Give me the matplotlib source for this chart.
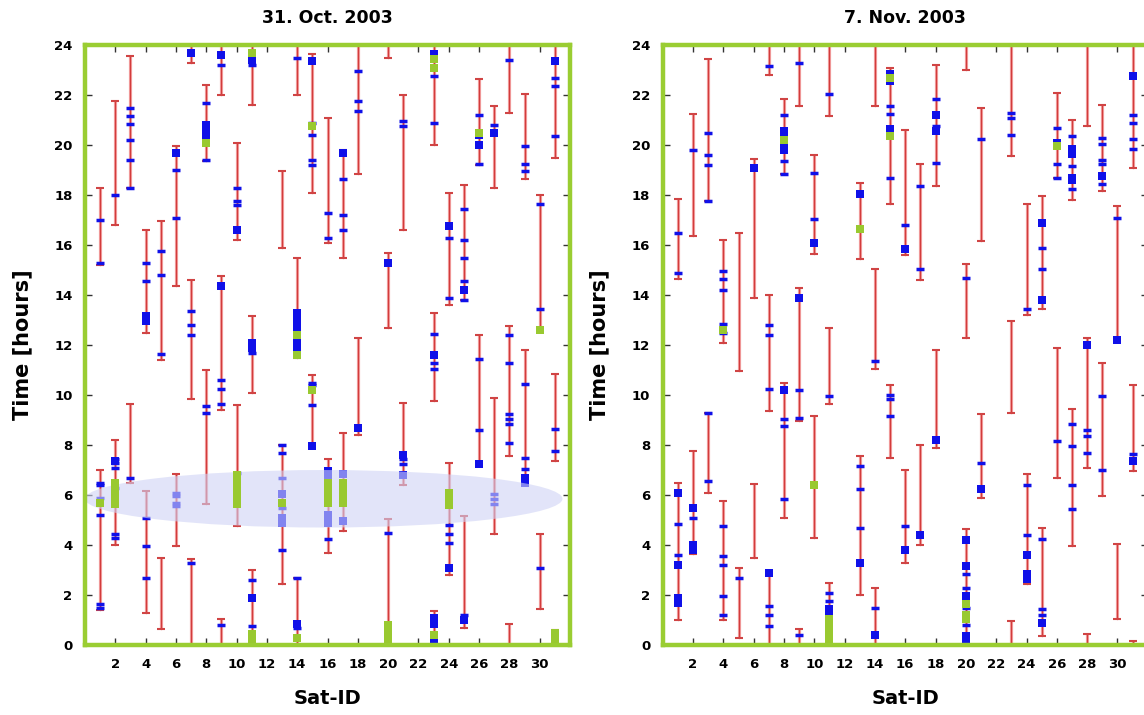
import matplotlib
matplotlib.use("Agg")
import matplotlib.pyplot as plt
from matplotlib.patches import Ellipse

# ---------------- data ----------------
# visibility windows: (sat, top hour, bottom hour)
oct_windows = [
    (1, 18.3, 15.2), (1, 7.0, 1.4), (2, 21.75, 16.8), (2, 8.2, 4.0),
    (3, 23.55, 18.3), (3, 9.65, 6.5), (4, 16.6, 12.5), (4, 6.15, 1.3),
    (5, 16.95, 11.4), (5, 3.5, 0.65), (6, 19.95, 14.35), (6, 6.85, 3.95),
    (7, 24, 23.3), (7, 14.6, 9.85), (7, 3.45, 0), (8, 22.4, 19.35), (8, 11.0, 5.65),
    (9, 24, 22.0), (9, 14.75, 9.4), (9, 1.05, 0), (10, 20.1, 16.2), (10, 9.6, 4.75),
    (11, 24, 21.6), (11, 13.15, 10.1), (11, 3.0, 0), (13, 18.95, 15.9), (13, 8.0, 2.45),
    (14, 24, 22.0), (14, 15.5, 11.5), (14, 2.7, 0), (15, 23.65, 18.1), (15, 10.8, 7.9),
    (16, 21.1, 16.1), (16, 7.45, 3.7), (17, 19.8, 15.5), (17, 8.5, 4.55),
    (18, 24, 18.85), (18, 12.3, 8.4), (20, 24, 23.5), (20, 15.7, 12.7), (20, 5.05, 0),
    (21, 22.0, 16.6), (21, 9.7, 6.4), (23, 24, 20.0), (23, 13.3, 9.75), (23, 1.35, 0),
    (24, 18.1, 13.6), (24, 7.3, 2.8), (25, 18.4, 13.8), (25, 5.15, 0.7),
    (26, 22.65, 19.2), (26, 12.4, 7.25), (27, 21.55, 18.3), (27, 9.9, 4.45),
    (28, 24, 21.3), (28, 12.75, 7.55), (28, 0.85, 0), (29, 22.05, 18.65), (29, 11.8, 6.4),
    (30, 18.0, 12.6), (30, 4.45, 1.45), (31, 24, 19.5), (31, 10.85, 7.35), (31, 0.6, 0),
]
oct_blue = [
    (1, [17.0, 15.3, 6.5, 6.4, 5.9, 5.2, 1.65, 1.5]), (2, [18.0, 7.45, 7.3, 7.1, 6.3, 4.45, 4.3]),
    (3, [21.5, 21.15, 20.85, 20.2, 19.4, 18.3, 6.7]), (4, [15.3, 14.55, 5.1, 3.95, 2.7]),
    (5, [15.75, 14.8, 11.65]), (6, [19.0, 17.1, 6.1, 5.95, 5.7, 5.55]), (7, [13.35, 12.8, 12.4, 3.3]),
    (8, [21.7, 19.4, 9.55, 9.3]), (9, [23.2, 10.6, 10.25, 9.65, 0.8]), (10, [18.3, 17.75, 17.6, 6.9]),
    (11, [23.2, 11.7, 2.6, 0.75]), (13, [8.0, 7.7, 6.7, 5.5, 3.8]), (14, [23.5, 2.7, 0.7]),
    (15, [20.9, 20.4, 19.4, 19.2, 10.5, 10.4, 9.6]), (16, [17.3, 16.3, 4.25]), (17, [18.65, 17.2, 16.6]),
    (18, [22.95, 21.75, 21.35]), (20, [4.5]), (21, [20.95, 20.75, 7.45, 7.25]),
    (23, [22.75, 20.9, 12.45, 11.3, 11.05]), (24, [16.3, 13.9, 4.8, 4.45, 4.1]),
    (25, [17.45, 16.2, 15.5, 14.55, 13.8, 1.2]), (26, [21.2, 19.25, 11.45, 8.6]),
    (27, [20.8, 6.05, 5.85, 5.65]), (28, [23.4, 12.4, 11.3, 9.25, 9.05, 8.85, 8.1]),
    (29, [19.95, 19.25, 18.95, 10.45, 7.5, 7.05]), (30, [17.65, 13.45, 3.1]),
    (31, [22.7, 22.35, 20.35, 8.65, 7.75]),
]
oct_blue_big = [
    (2, [7.35]), (4, [13.15, 12.95]), (6, [19.7]), (7, [23.7]), (8, [20.8, 20.55, 20.35]),
    (9, [23.6, 14.35]), (10, [16.6]), (11, [23.4, 12.1, 11.9, 1.9]), (13, [6.05, 5.1, 4.9]),
    (14, [13.3, 13.0, 12.7, 12.2, 11.9, 0.85]), (15, [23.35, 7.95]), (16, [6.95, 6.7, 5.2, 4.9]),
    (17, [19.7, 6.85, 4.95]), (18, [8.7]), (20, [15.3]), (21, [7.6, 6.8]),
    (23, [23.65, 11.6, 1.1, 0.85, 0.1]), (24, [16.75, 3.1]), (25, [14.2, 1.0]),
    (26, [20.4, 20.0, 7.25]), (27, [20.5]), (29, [6.7, 6.5]), (31, [23.35]),
]
oct_green = [
    (1, [5.7]), (2, [6.5, 6.2, 5.9, 5.65]), (8, [20.1]), (10, [6.8, 6.5, 6.2, 5.9, 5.65]),
    (11, [23.7, 0.45, 0.2]), (13, [5.7]), (14, [12.4, 11.6, 0.3]), (15, [20.75, 10.2]),
    (16, [6.5, 6.2, 5.9, 5.7]), (17, [6.5, 6.2, 5.9, 5.7]), (20, [0.8, 0.5, 0.2]),
    (23, [23.45, 23.1, 0.4]), (24, [6.1, 5.8, 5.6]), (26, [20.5]), (30, [12.6]), (31, [0.5, 0.2]),
]

nov_windows = [
    (1, 17.85, 14.65), (1, 6.5, 1.0), (2, 21.25, 16.35), (2, 7.75, 3.65),
    (3, 23.45, 17.75), (3, 9.3, 6.1), (4, 16.2, 12.1), (4, 5.75, 1.0),
    (5, 16.5, 10.95), (5, 3.1, 0.3), (6, 19.45, 13.9), (6, 6.45, 3.5),
    (7, 24, 22.8), (7, 14.0, 9.35), (7, 2.95, 0), (8, 21.85, 18.85), (8, 10.5, 5.1),
    (9, 24, 21.55), (9, 14.3, 8.95), (9, 0.65, 0), (10, 19.6, 15.65), (10, 9.15, 4.3),
    (11, 24, 21.15), (11, 12.7, 9.65), (11, 2.5, 0), (13, 18.5, 15.45), (13, 7.55, 2.0),
    (14, 24, 21.55), (14, 15.05, 11.05), (14, 2.3, 0), (15, 23.1, 17.65), (15, 10.4, 7.5),
    (16, 20.6, 15.6), (16, 7.0, 3.3), (17, 19.25, 14.6), (17, 8.0, 4.0),
    (18, 23.2, 18.35), (18, 11.8, 7.9), (20, 24, 23.0), (20, 15.25, 12.3), (20, 4.65, 0),
    (21, 21.5, 16.15), (21, 9.25, 5.9), (23, 24, 19.55), (23, 12.95, 9.3), (23, 0.95, 0),
    (24, 17.65, 13.2), (24, 6.85, 2.45), (25, 17.95, 13.45), (25, 4.7, 0.35),
    (26, 22.1, 18.7), (26, 11.9, 6.7), (27, 21.0, 17.8), (27, 9.45, 3.95),
    (28, 24, 20.75), (28, 12.3, 7.1), (28, 0.45, 0), (29, 21.6, 18.15), (29, 11.3, 5.95),
    (30, 17.55, 12.2), (30, 4.05, 1.05), (31, 24, 19.1), (31, 10.4, 6.95), (31, 0.15, 0),
]
nov_blue = [
    (1, [16.5, 14.9, 4.85, 3.6]), (2, [19.8, 5.1]), (3, [20.5, 19.6, 19.2, 17.75, 9.3, 6.55]),
    (4, [14.95, 14.65, 14.2, 12.85, 12.5, 4.75, 3.55, 3.2, 1.95, 1.2]), (5, [2.7]),
    (7, [23.15, 12.8, 12.4, 10.25, 1.55, 1.2, 0.75]), (8, [21.2, 19.35, 18.85, 9.05, 8.75, 5.85]),
    (9, [23.3, 10.2, 9.1, 0.4]), (10, [18.9, 17.05]), (11, [22.05, 9.95, 2.1, 1.75]),
    (13, [7.15, 6.25, 4.7]), (14, [11.35, 1.5]), (15, [21.55, 21.25, 18.7, 10.0, 9.85, 9.15]),
    (16, [16.8, 4.75]), (17, [18.35, 15.05]), (18, [21.85, 20.75, 19.3]),
    (20, [14.7, 2.85, 2.3, 1.5, 0.8]), (21, [20.25, 7.3]), (23, [21.3, 21.1, 20.4]),
    (24, [13.45, 6.4, 4.4]), (25, [15.9, 15.05, 4.25, 1.45, 1.2]), (26, [20.7, 19.25, 18.7, 8.15]),
    (27, [20.35, 19.15, 18.25, 8.85, 7.95, 6.4, 5.45]), (28, [8.6, 8.35, 7.7]),
    (29, [20.3, 20.05, 19.4, 19.25, 18.45, 9.95, 7.0]), (30, [17.1]),
    (31, [21.2, 20.9, 20.25, 19.85, 7.65]),
]
nov_blue_big = [
    (1, [6.1, 3.2, 1.9, 1.7]), (2, [5.5, 4.0, 3.8]), (6, [19.1]), (7, [2.9]),
    (8, [20.55, 20.3, 20.0, 19.8, 10.2]), (9, [13.9]), (10, [16.1]), (11, [1.45, 1.3]),
    (13, [18.05, 3.3]), (14, [0.4]), (15, [22.85, 22.55, 20.65, 20.45]), (16, [15.85, 3.8]),
    (17, [4.4]), (18, [21.2, 20.55, 8.2]), (20, [4.2, 3.15, 1.95, 0.35, 0.15]), (21, [6.25]),
    (24, [3.6, 2.85, 2.65]), (25, [16.9, 13.8, 0.9]), (26, [20.1]), (27, [19.85, 19.65, 18.7, 18.6]),
    (28, [12.0]), (29, [18.75]), (30, [12.2]), (31, [22.75, 7.35]),
]
nov_green = [
    (4, [12.6]), (8, [20.2]), (10, [6.4]), (11, [1.05, 0.8, 0.55, 0.3, 0.1]), (13, [16.65]),
    (15, [22.7, 20.35]), (20, [1.65, 1.2, 1.05]), (26, [19.95]),
]

titles = ["31. Oct. 2003", "7. Nov. 2003"]
xticks = list(range(2, 31, 2))
yticks = list(range(0, 25, 2))

frame_green = "#9acd32"
blue = "#1010e8"


def draw_panel(ax, windows, blue_pts, blue_big, green_pts, title, ylabel=True):
    for sat, top, bot in windows:
        ax.plot([sat, sat], [bot, top], color="#f4a4a4", lw=2.3, zorder=2, solid_capstyle="butt")
        ax.plot([sat, sat], [bot, top], color="#d23c3c", lw=0.9, zorder=2.1)
        ax.plot([sat, sat], [bot, top], ls="none", marker="_", ms=5.5, mew=1.5,
                color="#d04444", zorder=2.2)
    for sat, ts in blue_pts:
        ax.plot([sat] * len(ts), ts, ls="none", marker="_", ms=6, mew=2.5, color=blue, zorder=3)
    for sat, ts in blue_big:
        ax.plot([sat] * len(ts), ts, ls="none", marker="s", ms=5.5, mew=0, color=blue, zorder=3)
    for sat, ts in green_pts:
        ax.plot([sat] * len(ts), ts, ls="none", marker="s", ms=5.8, mew=0, color="#99c930", zorder=6)

    ax.set_xlim(0, 32)
    ax.set_ylim(0, 24)
    ax.set_xticks(xticks)
    ax.set_yticks(yticks)
    ax.tick_params(direction="in", length=5, width=1, color="#333333",
                   top=True, right=True, labelsize=9.5, pad=9)
    for lab in ax.get_xticklabels() + ax.get_yticklabels():
        lab.set_fontweight("bold")
    for sp in ax.spines.values():
        sp.set_color(frame_green)
        sp.set_linewidth(3.2)
        sp.set_zorder(7)
    ax.set_xlabel("Sat-ID", fontsize=14, fontweight="bold", labelpad=13)
    if ylabel:
        ax.set_ylabel("Time [hours]", fontsize=15, fontweight="bold", labelpad=16)
    ax.set_title(title, fontsize=12.5, fontweight="bold", pad=16)


fig = plt.figure(figsize=(11.44, 7.15), dpi=100)
ax1 = fig.add_axes([0.0743, 0.0979, 0.424, 0.839])
ax2 = fig.add_axes([0.5793, 0.0979, 0.424, 0.839])

draw_panel(ax1, oct_windows, oct_blue, oct_blue_big, oct_green, titles[0])
draw_panel(ax2, nov_windows, nov_blue, nov_blue_big, nov_green, titles[1])

# highlighted band on the first day
ell = Ellipse((15.75, 5.85), 31.5, 2.3, facecolor="#cfd3f5", edgecolor="none",
              alpha=0.6, zorder=5)
ax1.add_patch(ell)

fig.savefig("out.png", dpi=100)
